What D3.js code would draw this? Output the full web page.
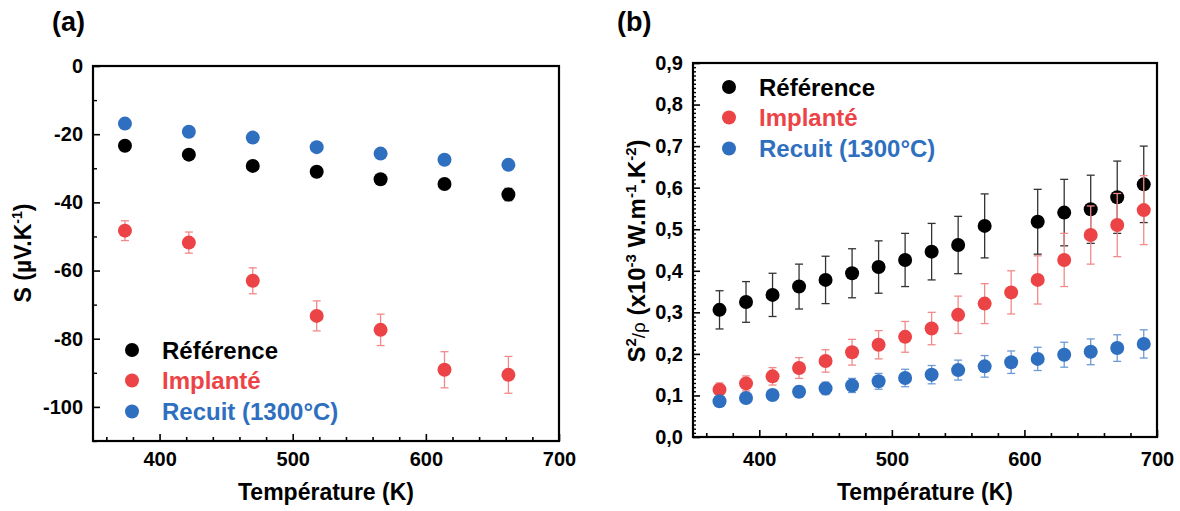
<!DOCTYPE html>
<html><head><meta charset="utf-8">
<script src="https://cdn.jsdelivr.net/npm/d3@7/dist/d3.min.js"></script>
<style>
body{margin:0;background:#fff}
text{font-family:"Liberation Sans",Arial,sans-serif;font-weight:bold}
</style>
</head><body>
<svg id="c" width="1180" height="511"></svg>
<script>
// ---------- Data: panel (a) Seebeck coefficient ----------
const tempA   = [374, 422, 470, 518, 566, 614, 662];
const refA    = [-23.4, -26.0, -29.3, -31.0, -33.2, -34.6, -37.7];
const refAErr = [0.8, 0.8, 0.9, 1.0, 1.0, 1.2, 1.8];
const impA    = [-48.3, -51.8, -63.0, -73.3, -77.4, -89.1, -90.6];
const impAErr = [2.9, 3.1, 3.8, 4.4, 4.6, 5.3, 5.4];
const recA    = [-16.9, -19.3, -21.0, -23.8, -25.7, -27.5, -29.0];
const recAErr = [0.5, 0.5, 0.5, 0.5, 0.5, 0.5, 0.5];
const yTicksA = [0, -20, -40, -60, -80, -100];

// ---------- Data: panel (b) power factor ----------
const tempRefB = [370, 390, 410, 430, 450, 470, 490, 510, 530, 550, 570, 610, 630, 650, 670, 690];
const refB     = [0.306, 0.325, 0.342, 0.362, 0.378, 0.394, 0.409, 0.426, 0.446, 0.462, 0.508, 0.518, 0.540, 0.548, 0.577, 0.608];
const refBErr  = [0.046, 0.049, 0.052, 0.054, 0.057, 0.059, 0.063, 0.064, 0.068, 0.069, 0.077, 0.078, 0.080, 0.082, 0.087, 0.092];
const tempB    = [370, 390, 410, 430, 450, 470, 490, 510, 530, 550, 570, 590, 610, 630, 650, 670, 690];
const impB     = [0.114, 0.129, 0.146, 0.166, 0.183, 0.204, 0.222, 0.241, 0.261, 0.294, 0.321, 0.348, 0.378, 0.426, 0.486, 0.510, 0.546];
const impBErr  = [0.016, 0.018, 0.021, 0.025, 0.027, 0.031, 0.034, 0.037, 0.039, 0.045, 0.048, 0.052, 0.058, 0.064, 0.070, 0.076, 0.083];
const recB     = [0.086, 0.094, 0.101, 0.109, 0.117, 0.124, 0.134, 0.142, 0.150, 0.161, 0.170, 0.180, 0.188, 0.198, 0.205, 0.214, 0.224];
const recBErr  = [0.010, 0.011, 0.012, 0.013, 0.015, 0.017, 0.019, 0.021, 0.022, 0.024, 0.026, 0.027, 0.028, 0.030, 0.031, 0.032, 0.034];
const yTicksB  = [0, 0.1, 0.2, 0.3, 0.4, 0.5, 0.6, 0.7, 0.8, 0.9];

const xTicks = [400, 500, 600, 700];
const seriesNames = ["Référence", "Implanté", "Recuit (1300°C)"];
const colors = ["#000000", "#ec4446", "#2f6fbf"];
const errColors = ["#333333", "#f28a8a", "#6d9ad6"];

const svg = d3.select("#c");
svg.append("rect").attr("width",1180).attr("height",511).attr("fill","#fff");

function drawPanel(cfg){
  const x = d3.scaleLinear().domain([350,700]).range([cfg.x0, cfg.x1]);
  const y = d3.scaleLinear().domain(cfg.yDomain).range([cfg.y1, cfg.y0]);
  const g = svg.append("g");

  // minor ticks x
  g.append("g").attr("transform",`translate(0,${cfg.y1})`)
    .call(d3.axisBottom(x).tickValues(d3.range(360,700,20).filter(v=>v%100!==0)).tickSize(-4).tickFormat(""))
    .call(a=>a.select(".domain").remove())
    .call(a=>a.selectAll("line").attr("stroke","#000").attr("stroke-width",1.6));
  // major ticks x
  g.append("g").attr("transform",`translate(0,${cfg.y1})`)
    .call(d3.axisBottom(x).tickValues(xTicks).tickSize(-7).tickPadding(cfg.xPad))
    .call(a=>a.select(".domain").remove())
    .call(a=>a.selectAll("line").attr("stroke","#000").attr("stroke-width",1.6))
    .call(a=>a.selectAll("text").attr("font-size",20).attr("fill","#000")
      .attr("font-family",'"Liberation Sans",Arial,sans-serif').attr("font-weight","bold"));
  // minor ticks y
  g.append("g").attr("transform",`translate(${cfg.x0},0)`)
    .call(d3.axisLeft(y).tickValues(cfg.yMinor).tickSize(-cfg.yMinorLen).tickFormat(""))
    .call(a=>a.select(".domain").remove())
    .call(a=>a.selectAll("line").attr("stroke","#000").attr("stroke-width",1.4));
  // major ticks y
  g.append("g").attr("transform",`translate(${cfg.x0},0)`)
    .call(d3.axisLeft(y).tickValues(cfg.yTicks).tickSize(-7).tickPadding(10).tickFormat(cfg.fmt))
    .call(a=>a.select(".domain").remove())
    .call(a=>a.selectAll("line").attr("stroke","#000").attr("stroke-width",1.6))
    .call(a=>a.selectAll("text").attr("font-size",20).attr("fill","#000")
      .attr("font-family",'"Liberation Sans",Arial,sans-serif').attr("font-weight","bold"));

  // frame
  g.append("rect").attr("x",cfg.x0).attr("y",cfg.y0)
    .attr("width",cfg.x1-cfg.x0).attr("height",cfg.y1-cfg.y0)
    .attr("fill","none").attr("stroke","#000").attr("stroke-width",2.2);

  // series
  cfg.series.forEach((s,si)=>{
    const pts = s.t.map((t,i)=>({t, v:s.v[i], e:s.e[i]}));
    const eg = g.append("g").attr("stroke",errColors[si]).attr("stroke-width",1.3);
    eg.selectAll("line.v").data(pts).join("line").attr("class","v")
      .attr("x1",d=>x(d.t)).attr("x2",d=>x(d.t))
      .attr("y1",d=>y(d.v-d.e)).attr("y2",d=>y(d.v+d.e));
    eg.selectAll("line.t").data(pts).join("line").attr("class","t")
      .attr("x1",d=>x(d.t)-4).attr("x2",d=>x(d.t)+4)
      .attr("y1",d=>y(d.v+d.e)).attr("y2",d=>y(d.v+d.e));
    eg.selectAll("line.b").data(pts).join("line").attr("class","b")
      .attr("x1",d=>x(d.t)-4).attr("x2",d=>x(d.t)+4)
      .attr("y1",d=>y(d.v-d.e)).attr("y2",d=>y(d.v-d.e));
    g.append("g").selectAll("circle").data(pts).join("circle")
      .attr("cx",d=>x(d.t)).attr("cy",d=>y(d.v)).attr("r",7)
      .attr("fill",colors[si]);
  });

  // legend
  seriesNames.forEach((n,i)=>{
    const ly = cfg.legY[i];
    g.append("circle").attr("cx",cfg.legX).attr("cy",ly).attr("r",7).attr("fill",colors[i]);
    g.append("text").attr("x",cfg.legX+30).attr("y",ly).attr("dy","0.36em")
      .attr("font-size",24).attr("fill",colors[i]).text(n);
  });

  // x title
  g.append("text").attr("x",(cfg.x0+cfg.x1)/2).attr("y",cfg.xTitleY)
    .attr("text-anchor","middle").attr("font-size",23).text("Température (K)");
  // panel label
  g.append("text").attr("x",cfg.labX).attr("y",31).attr("font-size",27).text(cfg.label);
  return g;
}

const gA = drawPanel({
  x0:93, x1:559, y0:66, y1:441, yDomain:[-110,0], yTicks:yTicksA,
  yMinor:d3.range(-110,1,10).filter(v=>v%20!==0), yMinorLen:4,
  fmt:d=>String(d), xPad:11, xTitleY:500,
  series:[{t:tempA,v:refA,e:refAErr},{t:tempA,v:impA,e:impAErr},{t:tempA,v:recA,e:recAErr}],
  legX:132, legY:[350,380.5,411.5], labX:52, label:"(a)"
});
const gB = drawPanel({
  x0:693, x1:1157, y0:63, y1:437, yDomain:[0,0.9], yTicks:yTicksB,
  yMinor:d3.range(1,90).filter(v=>v%10!==0).map(v=>v/100), yMinorLen:3,
  fmt:d=>d.toFixed(1).replace(".",","), xPad:15, xTitleY:500,
  series:[{t:tempRefB,v:refB,e:refBErr},{t:tempB,v:impB,e:impBErr},{t:tempB,v:recB,e:recBErr}],
  legX:729, legY:[87,117.5,148.5], labX:617, label:"(b)"
});

// y titles
const tA = svg.append("text").attr("transform","translate(31,253) rotate(-90)")
  .attr("text-anchor","middle").attr("font-size",23);
tA.append("tspan").text("S (µV.K");
tA.append("tspan").attr("font-size",14).attr("dy",-9).text("-1");
tA.append("tspan").attr("dy",9).text(")");

const tB = svg.append("text").attr("transform","translate(645,251) rotate(-90)")
  .attr("text-anchor","middle").attr("font-size",24);
tB.append("tspan").text("S");
tB.append("tspan").attr("font-size",15).attr("dy",-9).text("2");
tB.append("tspan").attr("font-size",19).attr("font-weight","normal").attr("dy",9).text("/ρ");
tB.append("tspan").text(" (x10");
tB.append("tspan").attr("font-size",15).attr("dy",-9).text("-3");
tB.append("tspan").attr("dy",9).text(" W.m");
tB.append("tspan").attr("font-size",15).attr("dy",-9).text("-1");
tB.append("tspan").attr("dy",9).text(".K");
tB.append("tspan").attr("font-size",15).attr("dy",-9).text("-2");
tB.append("tspan").attr("dy",9).text(")");
</script>
</body></html>
